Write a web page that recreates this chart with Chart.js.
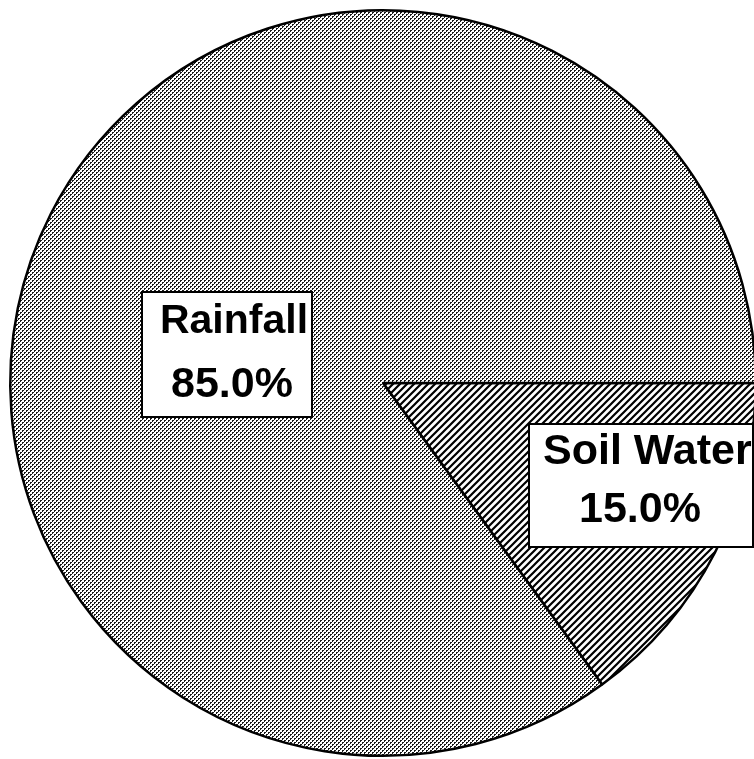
<!DOCTYPE html>
<html>
<head>
<meta charset="utf-8">
<script src="https://cdn.jsdelivr.net/npm/chart.js@4"></script>
<style>
    html, body { margin: 0; padding: 0; background: #fff; overflow: hidden; }
    #wrap { position: absolute; left: 0; top: 0; width: 766px; height: 766px; }
</style>
</head>
<body>
<div id="wrap"><canvas id="chart" width="766" height="766"></canvas></div>
<script>
const sources = ["Soil Water", "Rainfall"];
const shares = [15, 85];

// label boxes, offsets from the pie centre
const labelBoxes = [
    { left: 146, top: 41, w: 224, h: 123, line1: [160, 69, "left", 43], line2: [257, 127, "center"] },
    { left: -241, top: -91, w: 170, h: 125, line1: [-149, -61, "center", 41], line2: [-151, 2, "center"] }
];

const makePattern = (size, draw) => {
    const tile = document.createElement("canvas");
    tile.width = size;
    tile.height = size;
    const t = tile.getContext("2d");
    t.fillStyle = "#fff";
    t.fillRect(0, 0, size, size);
    draw(t, size);
    return t.createPattern(tile, "repeat");
};

// halftone dots for rainfall
const dots = makePattern(4, (t) => {
    t.fillStyle = "#1a1a1a";
    t.fillRect(0, 0, 2, 1);
    t.fillRect(0, 1, 1, 1);
    t.fillRect(2, 2, 2, 1);
    t.fillRect(2, 3, 1, 1);
});

// diagonal hatching for soil water
const hatch = makePattern(7, (t, s) => {
    t.strokeStyle = "#000";
    t.lineWidth = 2.2;
    t.beginPath();
    t.moveTo(-1, s + 1); t.lineTo(s + 1, -1);
    t.moveTo(-1, 1); t.lineTo(1, -1);
    t.moveTo(s - 1, s + 1); t.lineTo(s + 1, s - 1);
    t.stroke();
});

const boxLabels = {
    id: "boxLabels",
    afterDraw(chart) {
        const { ctx, chartArea } = chart;
        const cx = (chartArea.left + chartArea.right) / 2;
        const cy = (chartArea.top + chartArea.bottom) / 2;
        const total = shares.reduce((a, b) => a + b, 0);
        ctx.save();
        labelBoxes.forEach((b, i) => {
            ctx.fillStyle = "#fff";
            ctx.fillRect(cx + b.left, cy + b.top, b.w, b.h);
            ctx.lineWidth = 2;
            ctx.strokeStyle = "#000";
            ctx.strokeRect(cx + b.left, cy + b.top, b.w, b.h);
            ctx.fillStyle = "#000";
            ctx.textBaseline = "middle";
            ctx.font = `bold ${b.line1[3]}px 'Liberation Sans', Arial, sans-serif`;
            ctx.textAlign = b.line1[2];
            ctx.fillText(sources[i], cx + b.line1[0], cy + b.line1[1]);
            ctx.font = "bold 43px 'Liberation Sans', Arial, sans-serif";
            ctx.textAlign = b.line2[2];
            ctx.fillText((shares[i] / total * 100).toFixed(1) + "%", cx + b.line2[0], cy + b.line2[1]);
        });
        ctx.restore();
    }
};

new Chart(document.getElementById("chart"), {
    type: "pie",
    data: {
        labels: sources,
        datasets: [{
            data: shares,
            backgroundColor: [hatch, dots],
            borderColor: "#000",
            borderWidth: 2.5
        }]
    },
    options: {
        responsive: false,
        animation: false,
        rotation: 90,
        layout: { padding: 9 },
        plugins: {
            legend: { display: false },
            tooltip: { enabled: false }
        }
    },
    plugins: [boxLabels]
});
</script>
</body>
</html>
